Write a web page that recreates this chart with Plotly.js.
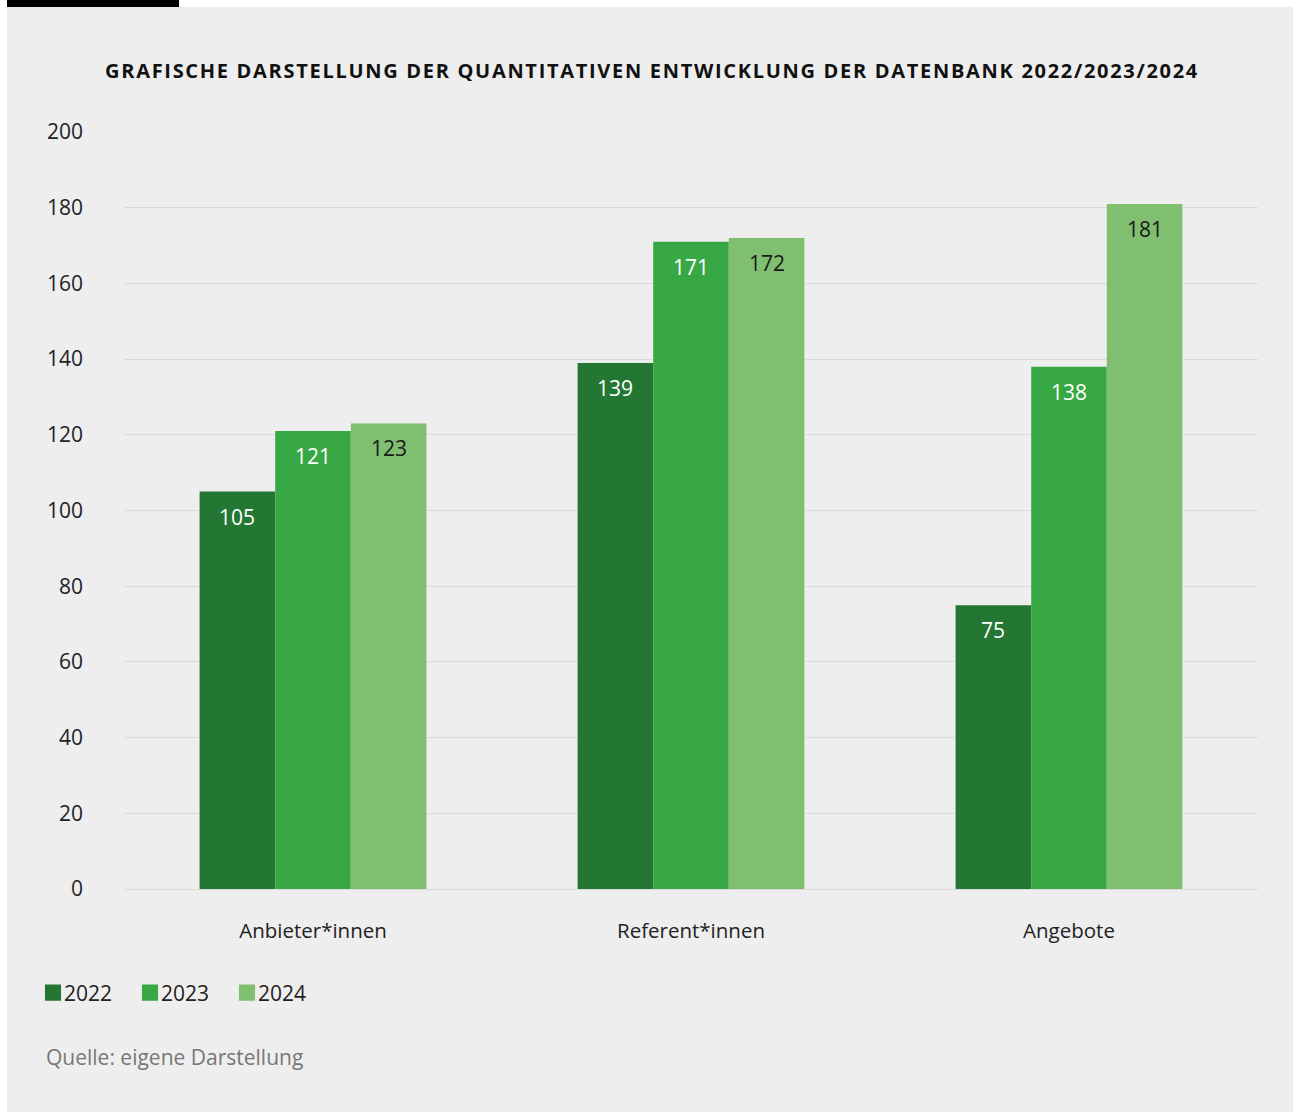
<!DOCTYPE html>
<html>
<head>
<meta charset="utf-8">
<script src="https://cdn.plot.ly/plotly-3.0.1.min.js"></script>
<style>
html,body{margin:0;padding:0;background:#fff;}
#chart{width:1293px;height:1115px;}
.gtitle{letter-spacing:1.7px;}
.legendpoints path{transform:translateX(29px) scale(1.34);}
</style>
</head>
<body>
<div id="chart"></div>
<script>
var categories = ["Anbieter*innen", "Referent*innen", "Angebote"];
var seriesNames = ["2022", "2023", "2024"];
var values2022 = [105, 139, 75];
var values2023 = [121, 171, 138];
var values2024 = [123, 172, 181];
var yTicks = [0, 20, 40, 60, 80, 100, 120, 140, 160, 180, 200];

var colors = ["#237733", "#38a845", "#80be70"];
var textColors = ["#ffffff", "#ffffff", "#1a1a1a"];
var allValues = [values2022, values2023, values2024];
var FONT = "'Open Sans', 'Noto Sans', sans-serif";

var plotW = 1293 - 124 - 35;
var barW = plotW / categories.length * 0.6 / seriesNames.length;

var traces = allValues.map(function (vals, i) {
  return {
    type: "bar",
    name: seriesNames[i],
    x: categories,
    y: vals,
    marker: {color: colors[i], line: {width: 0}},
    hoverinfo: "skip"
  };
});

var valueLabels = [];
allValues.forEach(function (vals, i) {
  vals.forEach(function (v, j) {
    valueLabels.push({
      x: categories[j], y: v, xref: "x", yref: "y",
      text: String(v), showarrow: false,
      xanchor: "center", yanchor: "middle",
      xshift: (i - 1) * barW, yshift: -25,
      font: {family: FONT, size: 21, color: textColors[i]}
    });
  });
});

var layout = {
  width: 1293,
  height: 1115,
  paper_bgcolor: "#ffffff",
  plot_bgcolor: "rgba(0,0,0,0)",
  margin: {l: 124, r: 35, t: 132, b: 226},
  barmode: "group",
  bargap: 0.4,
  bargroupgap: 0,
  font: {family: FONT, color: "#222222"},
  title: {
    text: "<b>GRAFISCHE DARSTELLUNG DER QUANTITATIVEN ENTWICKLUNG DER DATENBANK 2022/2023/2024</b>",
    font: {family: FONT, size: 20, color: "#111111"},
    x: 652 / 1293, xref: "container", xanchor: "center",
    y: 1 - 71 / 1115, yref: "container", yanchor: "middle"
  },
  xaxis: {
    type: "category",
    showgrid: false,
    zeroline: false,
    showline: false,
    ticks: "",
    tickfont: {family: FONT, size: 20.5, color: "#222222"},
    ticklabelstandoff: 27
  },
  yaxis: {
    range: [0, 200],
    tickvals: yTicks,
    ticktext: yTicks.map(String),
    showgrid: true,
    gridcolor: "#dadada",
    gridwidth: 1,
    zeroline: true,
    zerolinecolor: "#dadada",
    zerolinewidth: 1,
    showline: false,
    ticks: "",
    tickfont: {family: FONT, size: 21, color: "#222222"},
    ticklabelstandoff: 40
  },
  showlegend: true,
  legend: {
    orientation: "h",
    x: 24 / 1293, xref: "container", xanchor: "left",
    y: 1 - 993 / 1115, yref: "container", yanchor: "middle",
    font: {family: FONT, size: 21, color: "#222222"},
    itemwidth: 30,
    entrywidth: 52,
    traceorder: "normal",
    bgcolor: "rgba(0,0,0,0)",
    itemclick: false
  },
  shapes: [
    {type: "rect", xref: "paper", yref: "paper", layer: "below",
     x0: -117 / 1134, x1: 1.032, y0: -223 / 757, y1: 1 + 125 / 757,
     fillcolor: "#eeeeee", line: {width: 0}},
    {type: "rect", xref: "paper", yref: "paper", layer: "below",
     x0: -117 / 1134, x1: 55 / 1134, y0: 1 + 125 / 757, y1: 1 + 132 / 757,
     fillcolor: "#000000", line: {width: 0}}
  ],
  annotations: valueLabels.concat([
    {text: "Quelle: eigene Darstellung", xref: "paper", yref: "paper",
     x: -80 / 1134, y: -(1057 - 889) / 757, xanchor: "left", yanchor: "middle",
     showarrow: false, font: {family: FONT, size: 21, color: "#777777"}}
  ])
};

Plotly.newPlot("chart", traces, layout, {displayModeBar: false, staticPlot: true});
</script>
</body>
</html>
